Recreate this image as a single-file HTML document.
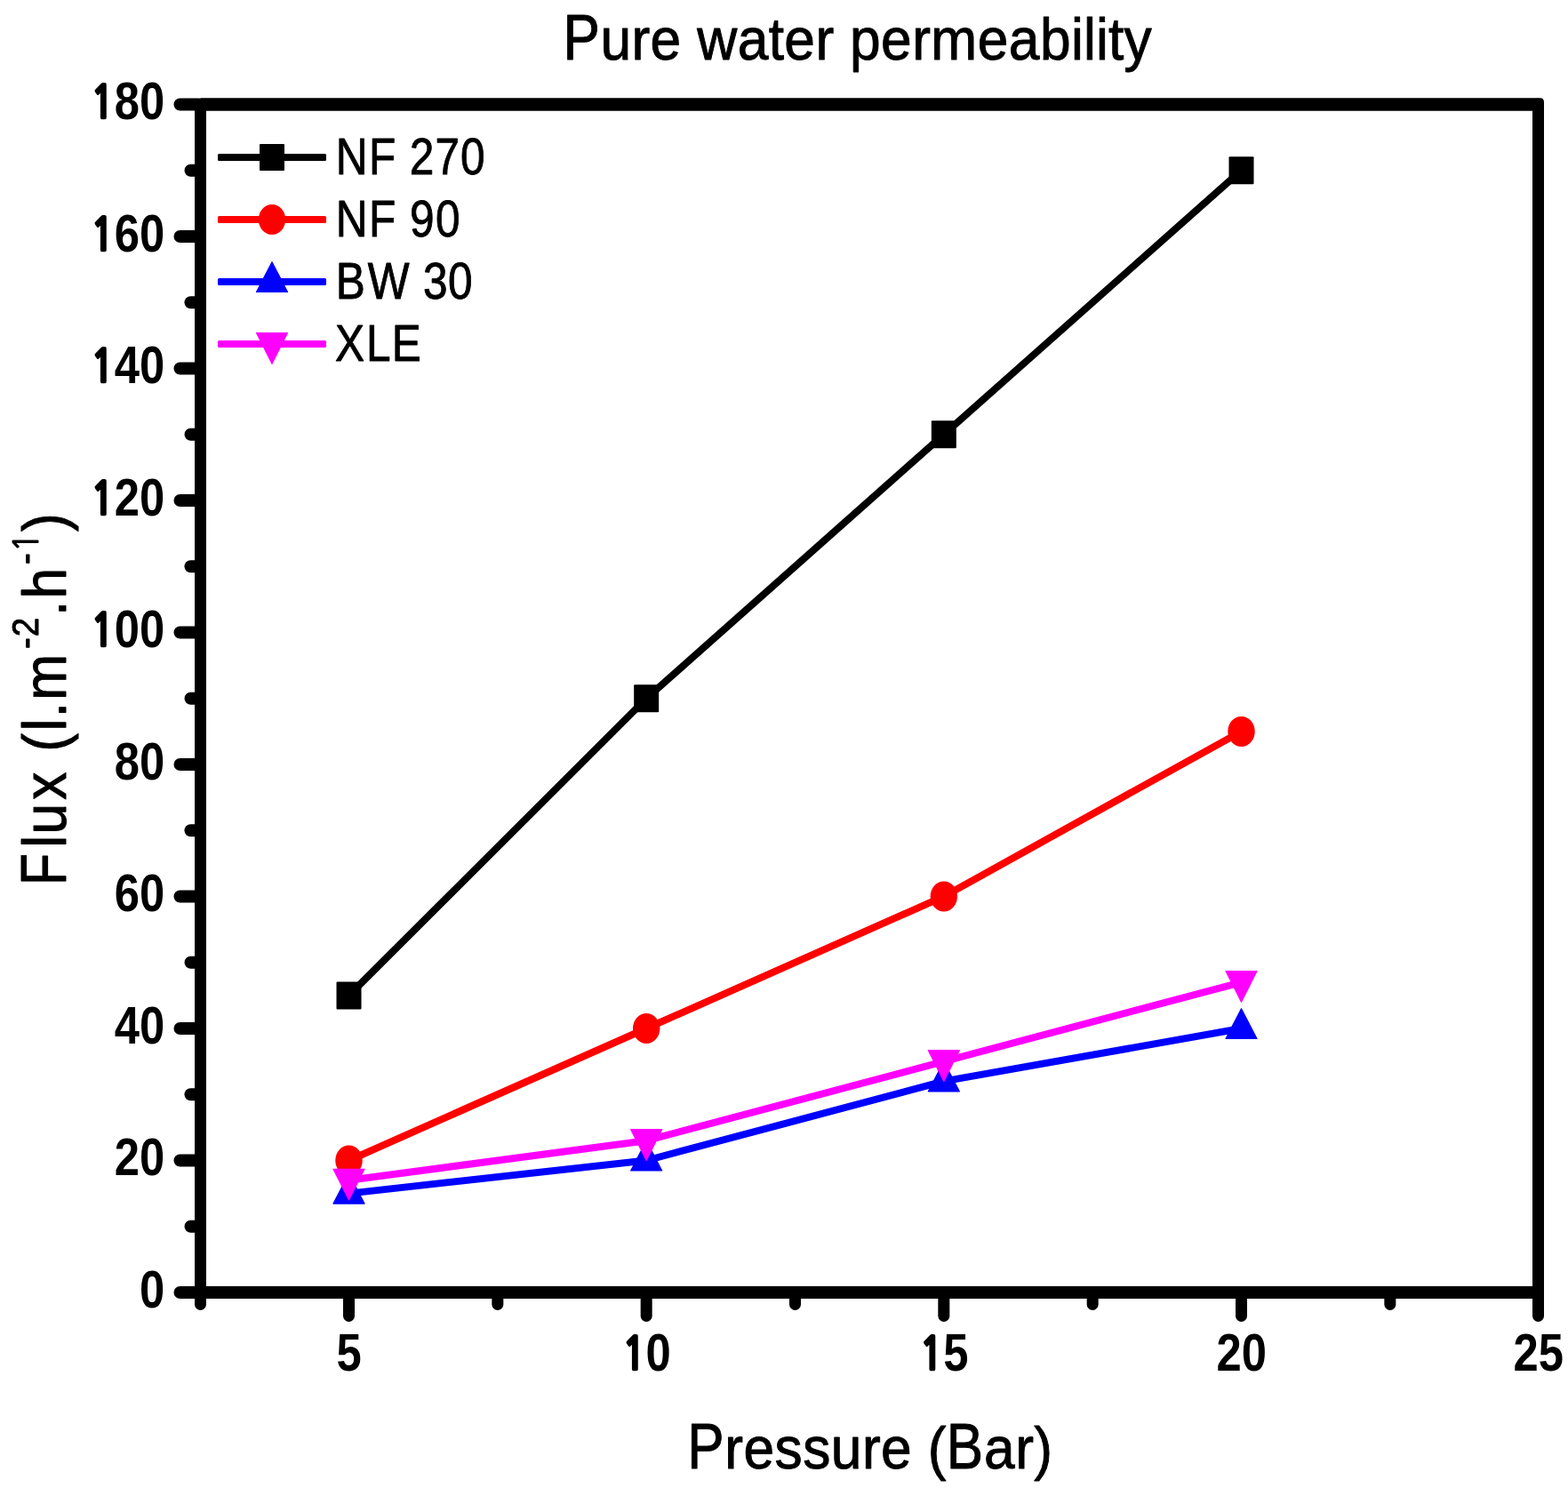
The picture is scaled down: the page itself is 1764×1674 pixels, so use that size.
<!DOCTYPE html>
<html lang="en"><head><meta charset="utf-8"><title>Pure water permeability</title>
<style>html,body{margin:0;padding:0;background:#fff;overflow:hidden}svg{display:block}text{font-family:"Liberation Sans",Arial,Helvetica,sans-serif;font-kerning:none;fill:#000}</style>
</head><body>
<svg width="1764" height="1674" viewBox="0 0 1764 1674">
<rect width="1764" height="1674" fill="#fff"/>
<g transform="translate(0,67) scale(0.922962962962963,1)"><text x="686.25 731.82 769.84 792.61 830.63 849.62 898.99 937.01 956.00 994.02 1016.78 1035.78 1073.80 1111.82 1134.58 1191.53 1229.55 1267.57 1305.58 1320.77 1335.96 1351.15 1370.14" y="0" font-size="67.5" stroke="#000" stroke-width="1.0" stroke-linejoin="round"><tspan font-size="71.5" textLength="44.83" lengthAdjust="spacingAndGlyphs">P</tspan>ure water permeability</text></g>
<line x1="225.5" y1="117.5" x2="1730.5" y2="117.5" stroke="#000" stroke-width="14.5"/>
<path d="M1729.5,110.25 H1732.5 Q1737,110.25 1737,114.75 V124.5 H1729.5 Z" fill="#000"/>
<line x1="1730.5" y1="117.5" x2="1730.5" y2="1454" stroke-width="13" stroke="#000"/>
<line x1="225.5" y1="117.5" x2="225.5" y2="1454" stroke-width="13" stroke="#000"/>
<line x1="225.5" y1="1454.0" x2="1730.5" y2="1454.0" stroke-width="14" stroke="#000"/>
<line x1="224.0" y1="1454.00" x2="202.5" y2="1454.00" stroke-width="14" stroke="#000" stroke-linecap="round"/>
<line x1="224.0" y1="1379.75" x2="214.5" y2="1379.75" stroke-width="14" stroke="#000" stroke-linecap="round"/>
<line x1="224.0" y1="1305.50" x2="202.5" y2="1305.50" stroke-width="14" stroke="#000" stroke-linecap="round"/>
<line x1="224.0" y1="1231.25" x2="214.5" y2="1231.25" stroke-width="14" stroke="#000" stroke-linecap="round"/>
<line x1="224.0" y1="1157.00" x2="202.5" y2="1157.00" stroke-width="14" stroke="#000" stroke-linecap="round"/>
<line x1="224.0" y1="1082.75" x2="214.5" y2="1082.75" stroke-width="14" stroke="#000" stroke-linecap="round"/>
<line x1="224.0" y1="1008.50" x2="202.5" y2="1008.50" stroke-width="14" stroke="#000" stroke-linecap="round"/>
<line x1="224.0" y1="934.25" x2="214.5" y2="934.25" stroke-width="14" stroke="#000" stroke-linecap="round"/>
<line x1="224.0" y1="860.00" x2="202.5" y2="860.00" stroke-width="14" stroke="#000" stroke-linecap="round"/>
<line x1="224.0" y1="785.75" x2="214.5" y2="785.75" stroke-width="14" stroke="#000" stroke-linecap="round"/>
<line x1="224.0" y1="711.50" x2="202.5" y2="711.50" stroke-width="14" stroke="#000" stroke-linecap="round"/>
<line x1="224.0" y1="637.25" x2="214.5" y2="637.25" stroke-width="14" stroke="#000" stroke-linecap="round"/>
<line x1="224.0" y1="563.00" x2="202.5" y2="563.00" stroke-width="14" stroke="#000" stroke-linecap="round"/>
<line x1="224.0" y1="488.75" x2="214.5" y2="488.75" stroke-width="14" stroke="#000" stroke-linecap="round"/>
<line x1="224.0" y1="414.50" x2="202.5" y2="414.50" stroke-width="14" stroke="#000" stroke-linecap="round"/>
<line x1="224.0" y1="340.25" x2="214.5" y2="340.25" stroke-width="14" stroke="#000" stroke-linecap="round"/>
<line x1="224.0" y1="266.00" x2="202.5" y2="266.00" stroke-width="14" stroke="#000" stroke-linecap="round"/>
<line x1="224.0" y1="191.75" x2="214.5" y2="191.75" stroke-width="14" stroke="#000" stroke-linecap="round"/>
<line x1="224.0" y1="117.50" x2="202.5" y2="117.50" stroke-width="14" stroke="#000" stroke-linecap="round"/>
<line x1="225.50" y1="1454.0" x2="225.50" y2="1467.5" stroke-width="13" stroke="#000" stroke-linecap="round"/>
<line x1="392.50" y1="1454.0" x2="392.50" y2="1480.5" stroke-width="13" stroke="#000" stroke-linecap="round"/>
<line x1="559.83" y1="1454.0" x2="559.83" y2="1467.5" stroke-width="13" stroke="#000" stroke-linecap="round"/>
<line x1="727.17" y1="1454.0" x2="727.17" y2="1480.5" stroke-width="13" stroke="#000" stroke-linecap="round"/>
<line x1="894.50" y1="1454.0" x2="894.50" y2="1467.5" stroke-width="13" stroke="#000" stroke-linecap="round"/>
<line x1="1061.83" y1="1454.0" x2="1061.83" y2="1480.5" stroke-width="13" stroke="#000" stroke-linecap="round"/>
<line x1="1229.17" y1="1454.0" x2="1229.17" y2="1467.5" stroke-width="13" stroke="#000" stroke-linecap="round"/>
<line x1="1396.50" y1="1454.0" x2="1396.50" y2="1480.5" stroke-width="13" stroke="#000" stroke-linecap="round"/>
<line x1="1563.83" y1="1454.0" x2="1563.83" y2="1467.5" stroke-width="13" stroke="#000" stroke-linecap="round"/>
<line x1="1730.50" y1="1454.0" x2="1730.50" y2="1480.5" stroke-width="13" stroke="#000" stroke-linecap="round"/>
<g transform="translate(185.2,1470.60) scale(0.856,1)"><text x="0" y="0" font-size="59.3" font-weight="bold" text-anchor="end">0</text></g>
<g transform="translate(185.2,1322.10) scale(0.856,1)"><text x="0" y="0" font-size="59.3" font-weight="bold" text-anchor="end">20</text></g>
<g transform="translate(185.2,1173.60) scale(0.856,1)"><text x="0" y="0" font-size="59.3" font-weight="bold" text-anchor="end">40</text></g>
<g transform="translate(185.2,1025.10) scale(0.856,1)"><text x="0" y="0" font-size="59.3" font-weight="bold" text-anchor="end">60</text></g>
<g transform="translate(185.2,876.60) scale(0.856,1)"><text x="0" y="0" font-size="59.3" font-weight="bold" text-anchor="end">80</text></g>
<g transform="translate(185.2,728.10) scale(0.856,1)"><text x="0" y="0" font-size="59.3" font-weight="bold" text-anchor="end"><tspan font-family="NanumGothic,'Liberation Sans',sans-serif" font-size="51.5" stroke="#000" stroke-width="2.5" stroke-linejoin="round" baseline-shift="1.25">1</tspan>00</text></g>
<g transform="translate(185.2,579.60) scale(0.856,1)"><text x="0" y="0" font-size="59.3" font-weight="bold" text-anchor="end"><tspan font-family="NanumGothic,'Liberation Sans',sans-serif" font-size="51.5" stroke="#000" stroke-width="2.5" stroke-linejoin="round" baseline-shift="1.25">1</tspan>20</text></g>
<g transform="translate(185.2,431.10) scale(0.856,1)"><text x="0" y="0" font-size="59.3" font-weight="bold" text-anchor="end"><tspan font-family="NanumGothic,'Liberation Sans',sans-serif" font-size="51.5" stroke="#000" stroke-width="2.5" stroke-linejoin="round" baseline-shift="1.25">1</tspan>40</text></g>
<g transform="translate(185.2,282.60) scale(0.856,1)"><text x="0" y="0" font-size="59.3" font-weight="bold" text-anchor="end"><tspan font-family="NanumGothic,'Liberation Sans',sans-serif" font-size="51.5" stroke="#000" stroke-width="2.5" stroke-linejoin="round" baseline-shift="1.25">1</tspan>60</text></g>
<g transform="translate(185.2,134.10) scale(0.856,1)"><text x="0" y="0" font-size="59.3" font-weight="bold" text-anchor="end"><tspan font-family="NanumGothic,'Liberation Sans',sans-serif" font-size="51.5" stroke="#000" stroke-width="2.5" stroke-linejoin="round" baseline-shift="1.25">1</tspan>80</text></g>
<g transform="translate(392.70,1542.2) scale(0.856,1)"><text x="0" y="0" font-size="59.3" font-weight="bold" text-anchor="middle">5</text></g>
<g transform="translate(727.37,1542.2) scale(0.856,1)"><text x="0" y="0" font-size="59.3" font-weight="bold" text-anchor="middle"><tspan font-family="NanumGothic,'Liberation Sans',sans-serif" font-size="51.5" stroke="#000" stroke-width="2.5" stroke-linejoin="round" baseline-shift="1.25">1</tspan>0</text></g>
<g transform="translate(1062.03,1542.2) scale(0.856,1)"><text x="0" y="0" font-size="59.3" font-weight="bold" text-anchor="middle"><tspan font-family="NanumGothic,'Liberation Sans',sans-serif" font-size="51.5" stroke="#000" stroke-width="2.5" stroke-linejoin="round" baseline-shift="1.25">1</tspan>5</text></g>
<g transform="translate(1396.70,1542.2) scale(0.856,1)"><text x="0" y="0" font-size="59.3" font-weight="bold" text-anchor="middle">20</text></g>
<g transform="translate(1730.70,1542.2) scale(0.856,1)"><text x="0" y="0" font-size="59.3" font-weight="bold" text-anchor="middle">25</text></g>
<g transform="translate(0,1652) scale(0.922962962962963,1)"><text x="837.77 883.44 906.25 944.35 978.60 1012.85 1050.94 1073.76 1111.85 1130.88 1153.72 1199.39 1237.48 1260.29" y="0" font-size="67.5" stroke="#000" stroke-width="1.0" stroke-linejoin="round"><tspan font-size="71.5" textLength="44.83" lengthAdjust="spacingAndGlyphs">P</tspan>ressure (<tspan font-size="71.5" textLength="44.83" lengthAdjust="spacingAndGlyphs">B</tspan>ar)</text></g>
<g transform="translate(74,990.7) rotate(-90) scale(0.9161764705882354,1)"><text stroke="#000" stroke-width="1.0" stroke-linejoin="round"><tspan x="-5.82" y="0" font-size="71.5" textLength="39.39" lengthAdjust="spacingAndGlyphs">F</tspan><tspan x="40.22" y="0" font-size="68">l</tspan><tspan x="57.07" y="0" font-size="68">u</tspan><tspan x="99.24" y="0" font-size="68">x</tspan> <tspan x="158.23" y="0" font-size="68">(</tspan><tspan x="183.49" y="0" font-size="68">l</tspan><tspan x="200.33" y="0" font-size="68">.</tspan><tspan x="221.40" y="0" font-size="68">m</tspan><tspan x="284.52" y="-31.1" font-size="42">-</tspan><tspan x="299.67" y="-31.1" font-size="42">2</tspan><tspan x="325.04" y="0" font-size="68">.</tspan><tspan x="346.11" y="0" font-size="68">h</tspan><tspan x="388.23" y="-31.1" font-size="42">-</tspan><tspan x="403.36" y="-31.1" font-size="39.3" font-family="NanumGothic,'Liberation Sans',sans-serif">1</tspan><tspan x="428.74" y="0" font-size="68">)</tspan></text></g>
<path d="M392.50,1119.88 L727.17,785.75 L1061.83,488.75 L1396.50,191.75" fill="none" stroke="#000000" stroke-width="8" stroke-linejoin="round"/>
<rect x="378.50" y="1104.38" width="28" height="31" rx="1" fill="#000000"/>
<rect x="713.17" y="770.25" width="28" height="31" rx="1" fill="#000000"/>
<rect x="1047.83" y="473.25" width="28" height="31" rx="1" fill="#000000"/>
<rect x="1382.50" y="176.25" width="28" height="31" rx="1" fill="#000000"/>
<path d="M392.50,1305.50 L727.17,1157.00 L1061.83,1008.50 L1396.50,822.88" fill="none" stroke="#ff0000" stroke-width="8" stroke-linejoin="round"/>
<ellipse cx="392.50" cy="1305.50" rx="15.2" ry="17" fill="#ff0000"/>
<ellipse cx="727.17" cy="1157.00" rx="15.2" ry="17" fill="#ff0000"/>
<ellipse cx="1061.83" cy="1008.50" rx="15.2" ry="17" fill="#ff0000"/>
<ellipse cx="1396.50" cy="822.88" rx="15.2" ry="17" fill="#ff0000"/>
<path d="M392.50,1342.62 L727.17,1305.50 L1061.83,1216.40 L1396.50,1157.00" fill="none" stroke="#0000ff" stroke-width="8" stroke-linejoin="round"/>
<polygon points="392.50,1320.33 410.00,1354.12 375.00,1354.12" fill="#0000ff" stroke="#0000ff" stroke-width="1.2" stroke-linejoin="round"/>
<polygon points="727.17,1283.20 744.67,1317.00 709.67,1317.00" fill="#0000ff" stroke="#0000ff" stroke-width="1.2" stroke-linejoin="round"/>
<polygon points="1061.83,1194.10 1079.33,1227.90 1044.33,1227.90" fill="#0000ff" stroke="#0000ff" stroke-width="1.2" stroke-linejoin="round"/>
<polygon points="1396.50,1134.70 1414.00,1168.50 1379.00,1168.50" fill="#0000ff" stroke="#0000ff" stroke-width="1.2" stroke-linejoin="round"/>
<path d="M392.50,1327.78 L727.17,1283.22 L1061.83,1194.12 L1396.50,1105.03" fill="none" stroke="#ff00ff" stroke-width="8" stroke-linejoin="round"/>
<polygon points="375.00,1315.28 410.00,1315.28 392.50,1350.08" fill="#ff00ff" stroke="#ff00ff" stroke-width="1.2" stroke-linejoin="round"/>
<polygon points="709.67,1270.72 744.67,1270.72 727.17,1305.52" fill="#ff00ff" stroke="#ff00ff" stroke-width="1.2" stroke-linejoin="round"/>
<polygon points="1044.33,1181.62 1079.33,1181.62 1061.83,1216.42" fill="#ff00ff" stroke="#ff00ff" stroke-width="1.2" stroke-linejoin="round"/>
<polygon points="1379.00,1092.53 1414.00,1092.53 1396.50,1127.33" fill="#ff00ff" stroke="#ff00ff" stroke-width="1.2" stroke-linejoin="round"/>
<rect x="245" y="173" width="122" height="8" rx="1.5" fill="#000000"/>
<rect x="292.00" y="162.00" width="28" height="30" rx="1" fill="#000000"/>
<g transform="translate(0,195.5) scale(0.855,1)"><text x="441.85 485.30 520.73 538.84 572.46 605.80" y="0" font-size="58.0" stroke="#000" stroke-width="0.9" stroke-linejoin="round">NF 270</text></g>
<rect x="245" y="243" width="122" height="8" rx="1.5" fill="#ff0000"/>
<ellipse cx="306.00" cy="247.00" rx="15.2" ry="17" fill="#ff0000"/>
<g transform="translate(0,265.5) scale(0.855,1)"><text x="441.85 485.30 520.73 539.04 573.17" y="0" font-size="58.0" stroke="#000" stroke-width="0.9" stroke-linejoin="round">NF 90</text></g>
<rect x="245" y="313" width="122" height="8" rx="1.5" fill="#0000ff"/>
<polygon points="306.00,294.70 323.50,328.50 288.50,328.50" fill="#0000ff" stroke="#0000ff" stroke-width="1.2" stroke-linejoin="round"/>
<g transform="translate(0,335.5) scale(0.855,1)"><text x="441.85 483.84 538.58 556.86 589.43" y="0" font-size="58.0" stroke="#000" stroke-width="0.9" stroke-linejoin="round">BW 30</text></g>
<rect x="245" y="383" width="122" height="8" rx="1.5" fill="#ff00ff"/>
<polygon points="288.50,374.50 323.50,374.50 306.00,409.30" fill="#ff00ff" stroke="#ff00ff" stroke-width="1.2" stroke-linejoin="round"/>
<g transform="translate(0,405.5) scale(0.855,1)"><text x="440.92 481.91 515.59" y="0" font-size="58.0" stroke="#000" stroke-width="0.9" stroke-linejoin="round">XLE</text></g>
</svg>
</body></html>
